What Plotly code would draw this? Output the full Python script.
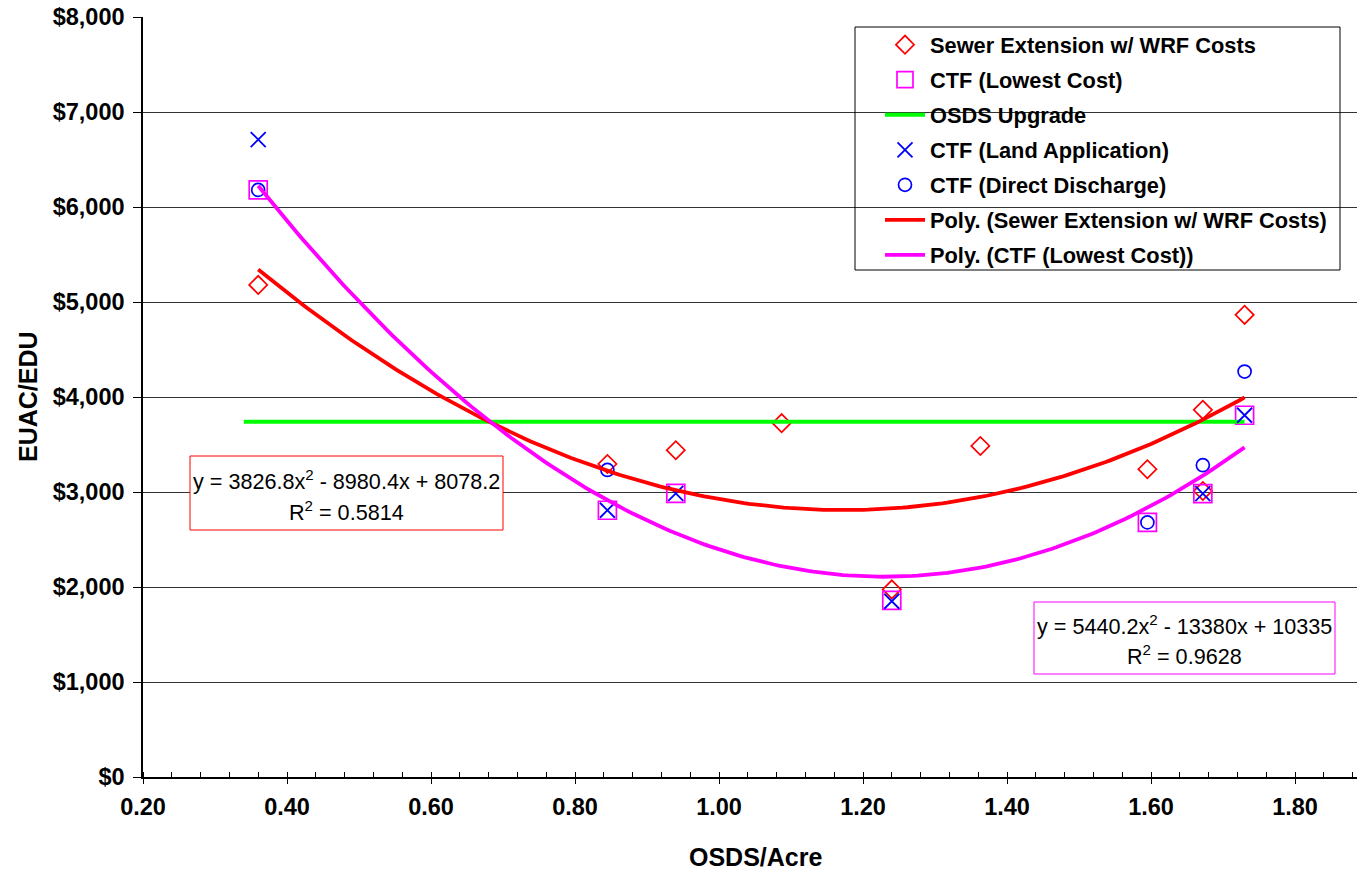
import numpy as np
import plotly.graph_objects as go

# ---------------- data ----------------
sewer_x = [0.36, 0.845, 0.94, 1.087, 1.24, 1.363, 1.595, 1.672, 1.672, 1.73]
sewer_y = [5180, 3295, 3440, 3725, 1975, 3485, 3240, 3865, 3010, 4865]

lowest_x = [0.36, 0.845, 0.94, 1.24, 1.595, 1.672, 1.73]
lowest_y = [6180, 2808, 2985, 1860, 2680, 2982, 3808]

land_x = [0.36, 0.845, 0.94, 1.24, 1.672, 1.73]
land_y = [6710, 2808, 2985, 1850, 2982, 3808]

direct_x = [0.36, 0.845, 1.595, 1.672, 1.73]
direct_y = [6180, 3232, 2680, 3282, 4268]

osds_x = [0.34, 1.73]
osds_y = [3740, 3740]

# trendline coefficients as displayed on the chart (a, b, c) and R^2
sewer_coef = [3826.8, -8980.4, 8078.2]
sewer_r2 = 0.5814
lowest_coef = [5440.2, -13380, 10335]
lowest_r2 = 0.9628

# ---------------- layout helpers ----------------
W, H = 1357, 872
ML, MR, MT, MB = 143, 0, 17, 95
PW, PH = W - ML - MR, H - MT - MB


def px(x):
    return (x - ML) / PW


def py(y):
    return (H - MB - y) / PH


def fmt_num(v):
    return "%g" % abs(v)


def eq_text(coef):
    a, b, c = coef
    sb = "-" if b < 0 else "+"
    sc = "-" if c < 0 else "+"
    return "y = %sx<sup>2</sup> %s %sx %s %s" % (fmt_num(a), sb, fmt_num(b), sc, fmt_num(c))


RED = "#FF0000"
MAG = "#FF00FF"
GRN = "#00FF00"
BLU = "#0000FF"
FONT = "Liberation Sans, Arial, sans-serif"

fig = go.Figure()

fig.add_trace(go.Scatter(x=sewer_x, y=sewer_y, mode="markers", name="Sewer Extension w/ WRF Costs",
                         legendgroup="a",
                         marker=dict(symbol="diamond-open", size=14, color=RED, line=dict(width=1.7, color=RED))))
fig.add_trace(go.Scatter(x=lowest_x, y=lowest_y, mode="markers", name="CTF (Lowest Cost)",
                         legendgroup="b",
                         marker=dict(symbol="square-open", size=18, color=MAG, line=dict(width=1.7, color=MAG))))
fig.add_trace(go.Scatter(x=osds_x, y=osds_y, mode="lines", name="OSDS Upgrade",
                         legendgroup="c",
                         line=dict(color=GRN, width=4)))
fig.add_trace(go.Scatter(x=land_x, y=land_y, mode="markers", name="CTF (Land Application)",
                         legendgroup="d",
                         marker=dict(symbol="x-thin-open", size=15, color=BLU, line=dict(width=1.8, color=BLU))))
fig.add_trace(go.Scatter(x=direct_x, y=direct_y, mode="markers", name="CTF (Direct Discharge)",
                         legendgroup="e",
                         marker=dict(symbol="circle-open", size=13, color=BLU, line=dict(width=1.7, color=BLU))))

sx = np.linspace(min(sewer_x), max(sewer_x), 200)
fig.add_trace(go.Scatter(x=sx, y=np.polyval(sewer_coef, sx), mode="lines",
                         name="Poly. (Sewer Extension w/ WRF Costs)", legendgroup="f",
                         line=dict(color=RED, width=3.8)))
lx = np.linspace(min(lowest_x), max(lowest_x), 200)
fig.add_trace(go.Scatter(x=lx, y=np.polyval(lowest_coef, lx), mode="lines",
                         name="Poly. (CTF (Lowest Cost))", legendgroup="g",
                         line=dict(color=MAG, width=3.8)))

# overlay axis for the inside half of the crossing major ticks
fig.add_trace(go.Scatter(x=[None], y=[None], xaxis="x2", showlegend=False, hoverinfo="skip"))

shapes = [
    dict(type="rect", xref="paper", yref="paper", x0=px(855), x1=px(1340), y0=py(270), y1=py(27),
         line=dict(color="#000000", width=1), fillcolor="rgba(0,0,0,0)", layer="above"),
    dict(type="rect", xref="paper", yref="paper", x0=px(190), x1=px(503), y0=py(530), y1=py(456),
         line=dict(color=RED, width=1), fillcolor="white", layer="above"),
    dict(type="rect", xref="paper", yref="paper", x0=px(1034), x1=px(1335), y0=py(674), y1=py(602),
         line=dict(color=MAG, width=1), fillcolor="white", layer="above"),
]

eqfont = dict(family=FONT, size=21.6, color="#000000")
annotations = [
    dict(xref="paper", yref="paper", x=px(346.5), y=py(480), text=eq_text(sewer_coef), showarrow=False,
         font=eqfont, xanchor="center", yanchor="middle"),
    dict(xref="paper", yref="paper", x=px(346.5), y=py(511), text="R<sup>2</sup> = %.4f" % sewer_r2,
         showarrow=False, font=eqfont, xanchor="center", yanchor="middle"),
    dict(xref="paper", yref="paper", x=px(1184.5), y=py(625), text=eq_text(lowest_coef), showarrow=False,
         font=eqfont, xanchor="center", yanchor="middle"),
    dict(xref="paper", yref="paper", x=px(1184.5), y=py(655), text="R<sup>2</sup> = %.4f" % lowest_r2,
         showarrow=False, font=eqfont, xanchor="center", yanchor="middle"),
    dict(xref="paper", yref="paper", x=px(28), y=py(397), text="<b>EUAC/EDU</b>", showarrow=False,
         textangle=-90, font=dict(family=FONT, size=25, color="#000000"), xanchor="center", yanchor="middle"),
    dict(xref="paper", yref="paper", x=px(755), y=py(857), text="<b>OSDS/Acre</b>", showarrow=False,
         font=dict(family=FONT, size=25, color="#000000"), xanchor="center", yanchor="middle"),
]

xr = [0.2, 0.2 + PW / 720.0]

fig.update_layout(
    width=W, height=H,
    margin=dict(l=ML, r=MR, t=MT, b=MB, pad=0),
    paper_bgcolor="white", plot_bgcolor="white",
    font=dict(family=FONT, color="#000000"),
    showlegend=True,
    legend=dict(x=px(880), y=py(24), xanchor="left", yanchor="top",
                bgcolor="rgba(0,0,0,0)", borderwidth=0,
                font=dict(family=FONT, size=21.8, color="#000000", weight="bold"),
                itemwidth=40, tracegroupgap=3.7, traceorder="grouped"),
    xaxis=dict(range=xr, tickmode="linear", tick0=0.2, dtick=0.2, tickformat=".2f",
               showgrid=False, zeroline=False, showline=True, linecolor="#000000", linewidth=1.5,
               ticks="outside", ticklen=5, tickwidth=1, tickcolor="#000000",
               minor=dict(ticks="inside", ticklen=5, dtick=0.04, tick0=0.2, tickcolor="#000000", showgrid=False),
               tickfont=dict(family=FONT, size=23.5, color="#000000", weight="bold"),
               ticklabelstandoff=3),
    xaxis2=dict(range=xr, overlaying="x", side="bottom", anchor="y", tickmode="linear", tick0=0.2, dtick=0.2,
                showticklabels=False, showgrid=False, zeroline=False, showline=False,
                ticks="inside", ticklen=5, tickwidth=1, tickcolor="#000000"),
    yaxis=dict(range=[0, 8000], tickmode="linear", tick0=0, dtick=1000, tickprefix="$", tickformat=",d",
               showgrid=True, gridcolor="#333333", gridwidth=1, zeroline=False,
               showline=True, linecolor="#000000", linewidth=1.5,
               ticks="outside", ticklen=8, tickwidth=1, tickcolor="#000000",
               tickfont=dict(family=FONT, size=23.5, color="#000000", weight="bold"),
               ticklabelstandoff=4),
    shapes=shapes,
    annotations=annotations,
)

fig.write_html("out.html")
